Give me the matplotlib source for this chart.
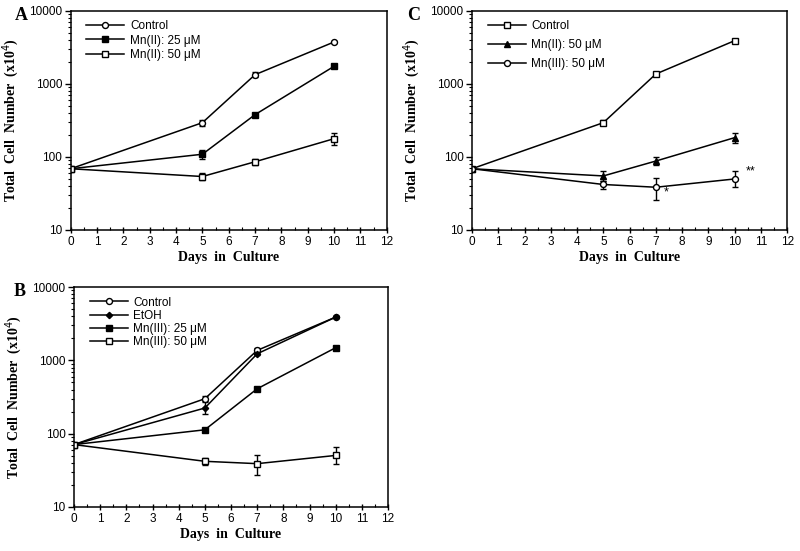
import matplotlib
matplotlib.use("Agg")
import matplotlib.pyplot as plt
import numpy as np

days = [0, 5, 7, 10]

# Panel A
a_control = [69, 295, 1340, 3760]
a_control_lo = [3, 30, 110, 150]
a_control_hi = [3, 30, 110, 150]
a_mn2_25 = [69, 109, 380, 1745]
a_mn2_25_lo = [3, 14, 25, 60]
a_mn2_25_hi = [3, 16, 25, 60]
a_mn2_50 = [69, 54, 86, 178]
a_mn2_50_lo = [3, 6, 9, 30]
a_mn2_50_hi = [3, 6, 9, 35]

# Panel B
b_control = [71, 300, 1370, 3900]
b_control_lo = [3, 25, 100, 150]
b_control_hi = [3, 25, 100, 150]
b_etoh = [71, 224, 1230, 3900]
b_etoh_lo = [3, 40, 60, 150]
b_etoh_hi = [3, 45, 60, 150]
b_mn3_25 = [71, 113, 410, 1490]
b_mn3_25_lo = [3, 5, 15, 40]
b_mn3_25_hi = [3, 5, 15, 40]
b_mn3_50 = [71, 42, 39, 50.5]
b_mn3_50_lo = [3, 5, 12, 11.5]
b_mn3_50_hi = [3, 5, 13, 15.5]

# Panel C
c_control = [69, 295, 1370, 3920]
c_control_lo = [3, 25, 90, 150]
c_control_hi = [3, 25, 90, 150]
c_mn2_50 = [69, 55, 88, 184]
c_mn2_50_lo = [3, 8, 10, 28]
c_mn2_50_hi = [3, 10, 12, 32]
c_mn3_50 = [69, 42, 38.5, 50]
c_mn3_50_lo = [3, 5, 12.5, 11]
c_mn3_50_hi = [3, 5, 13.5, 15]

xticks = list(range(0, 13))

sans = "Liberation Sans"
serif = "Liberation Serif"
plt.rcParams["font.family"] = sans

fig = plt.figure(figsize=(8, 5.51), dpi=100)
axA = fig.add_axes([0.0884, 0.5826, 0.395, 0.3975])
axC = fig.add_axes([0.590, 0.5826, 0.394, 0.3975])
axB = fig.add_axes([0.0925, 0.0799, 0.3925, 0.399])


def series(ax, y, lo, hi, marker, mfc, label, ms=4.3):
    ax.errorbar(days, y, yerr=[lo, hi], color="black", lw=1.1, marker=marker,
                mfc=mfc, mec="black", ms=ms, mew=1.0, capsize=2.5, elinewidth=1.0,
                label=label)


def style(ax):
    ax.set_yscale("log")
    ax.set_ylim(10, 10000)
    ax.set_xlim(0, 12)
    ax.set_xticks(xticks)
    ax.set_xticks(np.arange(0.5, 12, 1), minor=True)
    ax.set_yticks([10, 100, 1000, 10000])
    ax.set_yticklabels(["10", "100", "1000", "10000"])
    ax.tick_params(axis="y", which="major", direction="out", length=4, width=1, labelsize=8.5, pad=2)
    ax.tick_params(axis="y", which="minor", direction="out", length=2.5, width=0.8)
    ax.tick_params(axis="x", which="major", direction="inout", length=5, width=1, labelsize=8.5, pad=2)
    ax.tick_params(axis="x", which="minor", direction="in", length=2, width=0.8)
    for s in ax.spines.values():
        s.set_linewidth(1.1)
    ax.set_xlabel("Days  in  Culture", fontfamily=serif, fontweight="bold", fontsize=10, labelpad=2)
    ax.set_ylabel("Total  Cell  Number  (x10$^4$)", fontfamily=serif, fontweight="bold",
                  fontsize=10, labelpad=6)


# Panel A
series(axA, a_control, a_control_lo, a_control_hi, "o", "white", "Control")
series(axA, a_mn2_25, a_mn2_25_lo, a_mn2_25_hi, "s", "black", "Mn(II): 25 μM", ms=4)
series(axA, a_mn2_50, a_mn2_50_lo, a_mn2_50_hi, "s", "white", "Mn(II): 50 μM")
style(axA)

# Panel C
series(axC, c_control, c_control_lo, c_control_hi, "s", "white", "Control")
series(axC, c_mn2_50, c_mn2_50_lo, c_mn2_50_hi, "^", "black", "Mn(II): 50 μM", ms=4)
series(axC, c_mn3_50, c_mn3_50_lo, c_mn3_50_hi, "o", "white", "Mn(III): 50 μM")
style(axC)
axC.text(7.4, 33, "*", fontsize=9, ha="center", va="center")
axC.text(10.6, 63, "**", fontsize=9, ha="center", va="center")

# Panel B
series(axB, b_control, b_control_lo, b_control_hi, "o", "white", "Control")
series(axB, b_etoh, b_etoh_lo, b_etoh_hi, "D", "black", "EtOH", ms=3.2)
series(axB, b_mn3_25, b_mn3_25_lo, b_mn3_25_hi, "s", "black", "Mn(III): 25 μM", ms=4)
series(axB, b_mn3_50, b_mn3_50_lo, b_mn3_50_hi, "s", "white", "Mn(III): 50 μM")
style(axB)

for ax, spacing, top in [(axA, 0.18, 1.0), (axC, 0.57, 1.0), (axB, 0.1, 1.0)]:
    h, l = ax.get_legend_handles_labels()
    h = [hh[0] for hh in h]
    ax.legend(h, l, loc="upper left", frameon=False, fontsize=8.5, handlelength=3.2,
              handletextpad=0.5, labelspacing=spacing, borderaxespad=0.4,
              bbox_to_anchor=(0.02, top))

fig.text(15 / 800, 1 - 16 / 551, "A", fontfamily=serif, fontweight="bold", fontsize=13, va="center")
fig.text(407 / 800, 1 - 16 / 551, "C", fontfamily=serif, fontweight="bold", fontsize=13, va="center")
fig.text(14 / 800, 1 - 292 / 551, "B", fontfamily=serif, fontweight="bold", fontsize=13, va="center")

fig.savefig("out.png", dpi=100)
